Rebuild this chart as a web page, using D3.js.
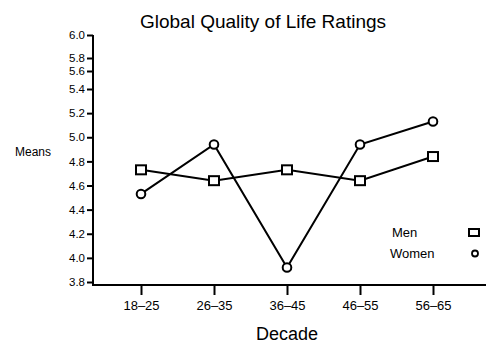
<!DOCTYPE html>
<html>
<head>
<meta charset="utf-8">
<script src="https://cdn.jsdelivr.net/npm/d3@7"></script>
<style>
  body { margin: 0; background: #fff; }
  text { font-family: "Liberation Sans", Arial, sans-serif; fill: #000; }
</style>
</head>
<body>
<svg id="chart"></svg>
<script>
// data
const decades = ['18–25', '26–35', '36–45', '46–55', '56–65'];
const menMeans = [4.73, 4.64, 4.73, 4.64, 4.84];
const womenMeans = [4.53, 4.94, 3.92, 4.94, 5.13];
const yTicks = [3.8, 4.0, 4.2, 4.4, 4.6, 4.8, 5.0, 5.2, 5.4, 5.6, 5.8, 6.0];
const seriesNames = ['Men', 'Women'];

const width = 486, height = 346;
const plotLeft = 93, plotBottom = 285, plotTop = 35, plotRight = 486;

const svg = d3.select('#chart')
  .attr('width', width)
  .attr('height', height);

// x: categories
const x = d3.scalePoint()
  .domain(decades)
  .range([141, 433]);

// y: the original axis spacing is uneven above 5.4, so the scale is piecewise
const y = d3.scaleLinear()
  .domain([3.8, 5.4, 5.6, 5.8, 6.0])
  .range([282, 89, 71, 58, 35]);

// frame (L shape)
svg.append('line')
  .attr('x1', plotLeft).attr('x2', plotLeft)
  .attr('y1', plotTop).attr('y2', plotBottom + 1)
  .attr('stroke', '#000').attr('stroke-width', 2);
svg.append('line')
  .attr('x1', plotLeft - 1).attr('x2', plotRight)
  .attr('y1', plotBottom).attr('y2', plotBottom)
  .attr('stroke', '#000').attr('stroke-width', 2);

// y axis
const yAxis = svg.append('g')
  .attr('transform', `translate(${plotLeft},0)`)
  .call(d3.axisLeft(y).tickValues(yTicks).tickSize(6).tickPadding(2).tickFormat(d3.format('.1f')));
yAxis.select('.domain').remove();
yAxis.selectAll('.tick line').attr('stroke-width', 2);
yAxis.selectAll('text').style('font-size', '11.5px');

// x axis
const xAxis = svg.append('g')
  .attr('transform', `translate(0,${plotBottom})`)
  .call(d3.axisBottom(x).tickSize(10).tickPadding(6));
xAxis.select('.domain').remove();
xAxis.selectAll('.tick line').attr('stroke-width', 2);
xAxis.selectAll('text').style('font-size', '13px');

// lines
const line = d3.line()
  .x((d, i) => x(decades[i]))
  .y(d => y(d));

[menMeans, womenMeans].forEach(vals => {
  svg.append('path')
    .datum(vals)
    .attr('d', line)
    .attr('fill', 'none')
    .attr('stroke', '#000')
    .attr('stroke-width', 2);
});

// markers
svg.selectAll('.men')
  .data(menMeans)
  .enter()
  .append('rect')
  .attr('class', 'men')
  .attr('x', (d, i) => x(decades[i]) - 5)
  .attr('y', d => y(d) - 4.5)
  .attr('width', 10)
  .attr('height', 9)
  .attr('fill', '#fff')
  .attr('stroke', '#000')
  .attr('stroke-width', 2);

svg.selectAll('.women')
  .data(womenMeans)
  .enter()
  .append('circle')
  .attr('class', 'women')
  .attr('cx', (d, i) => x(decades[i]))
  .attr('cy', d => y(d))
  .attr('r', 4.3)
  .attr('fill', '#fff')
  .attr('stroke', '#000')
  .attr('stroke-width', 2);

// titles
svg.append('text')
  .attr('x', 263).attr('y', 28)
  .attr('text-anchor', 'middle')
  .style('font-size', '19px')
  .text('Global Quality of Life Ratings');

svg.append('text')
  .attr('x', 15).attr('y', 156)
  .style('font-size', '12px')
  .text('Means');

svg.append('text')
  .attr('x', 287).attr('y', 340)
  .attr('text-anchor', 'middle')
  .style('font-size', '18px')
  .text('Decade');

// legend
const legend = svg.append('g');
legend.append('text')
  .attr('x', 392).attr('y', 237)
  .style('font-size', '13px')
  .text(seriesNames[0]);
legend.append('text')
  .attr('x', 390).attr('y', 258)
  .style('font-size', '13px')
  .text(seriesNames[1]);
legend.append('rect')
  .attr('x', 469).attr('y', 229)
  .attr('width', 10).attr('height', 7)
  .attr('fill', '#fff')
  .attr('stroke', '#000')
  .attr('stroke-width', 2);
legend.append('circle')
  .attr('cx', 475).attr('cy', 253.5)
  .attr('r', 3)
  .attr('fill', '#fff')
  .attr('stroke', '#000')
  .attr('stroke-width', 1.8);
</script>
</body>
</html>
